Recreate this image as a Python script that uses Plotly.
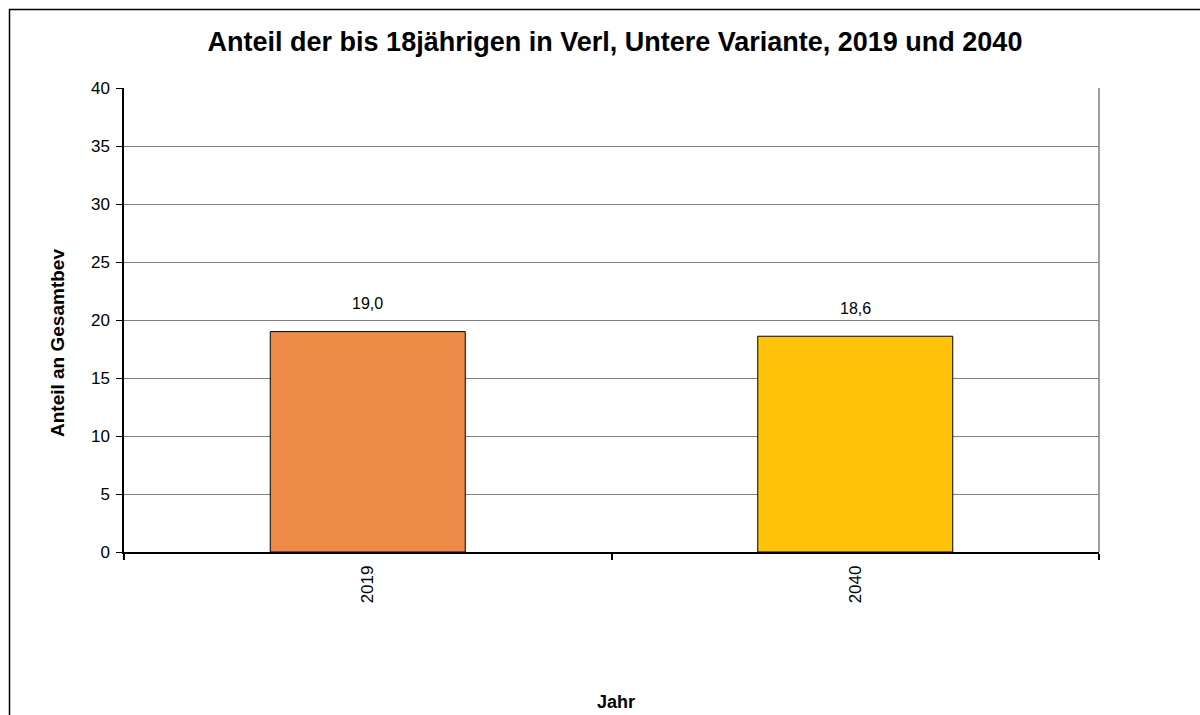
import plotly.graph_objects as go

# Data
jahre = ["2019", "2040"]
anteil = [19.0, 18.6]
farben = ["#EE8A47", "#FFC309"]
y_ticks = [0, 5, 10, 15, 20, 25, 30, 35, 40]

FONT = "Liberation Sans, Arial, sans-serif"

W, H = 1200, 715
L, R, T, B = 124, 101, 88, 163
PW, PH = W - L - R, H - T - B


def px_x(px):
    return (px - L) / PW


def px_y(py):
    return (H - B - py) / PH


fig = go.Figure()
fig.add_trace(go.Bar(
    x=jahre,
    y=anteil,
    marker=dict(color=farben, line=dict(color="#000000", width=1)),
    width=0.4,
    hoverinfo="skip",
))

# value labels above the bars (category index positions)
annotations = []
for i, v in enumerate(anteil):
    annotations.append(dict(
        x=i, y=v, xref="x", yref="y",
        text=f"{v:.1f}".replace(".", ","),
        showarrow=False, yshift=28,
        font=dict(family=FONT, size=16, color="#000000"),
    ))

# axis titles
annotations.append(dict(
    x=px_x(57), y=px_y(343), xref="paper", yref="paper",
    text="<b>Anteil an Gesamtbev</b>", textangle=-90,
    showarrow=False, xanchor="center", yanchor="middle",
    font=dict(family=FONT, size=19, color="#000000"),
))
annotations.append(dict(
    x=px_x(616), y=px_y(702), xref="paper", yref="paper",
    text="<b>Jahr</b>",
    showarrow=False, xanchor="center", yanchor="middle",
    font=dict(family=FONT, size=18, color="#000000"),
))

shapes = [
    # right border of plot area
    dict(type="line", xref="paper", yref="paper", x0=1, x1=1, y0=0, y1=1,
         line=dict(color="#808080", width=1.5)),
    # outer chart frame
    dict(type="rect", xref="paper", yref="paper",
         x0=px_x(9.5), x1=px_x(1215), y0=px_y(730), y1=px_y(9.5),
         line=dict(color="#000000", width=1.5)),
]

fig.update_layout(
    width=W, height=H,
    margin=dict(l=L, r=R, t=T, b=B),
    paper_bgcolor="#FFFFFF",
    plot_bgcolor="#FFFFFF",
    showlegend=False,
    title=dict(
        text="<b>Anteil der bis 18jährigen in Verl, Untere Variante, 2019 und 2040</b>",
        x=px_x(615), xref="paper", xanchor="center",
        y=1 - 42 / H, yref="container", yanchor="middle",
        font=dict(family=FONT, size=27, color="#000000"),
    ),
    xaxis=dict(
        type="category",
        range=[-0.5, 1.5],
        showline=True, linecolor="#000000", linewidth=1.5,
        ticks="outside", tickson="boundaries", ticklen=6,
        tickcolor="#000000", tickwidth=1.5,
        tickangle=-90, ticklabelstandoff=5,
        tickfont=dict(family=FONT, size=17, color="#000000"),
        showgrid=False, zeroline=False,
    ),
    yaxis=dict(
        range=[0, 40],
        tickvals=y_ticks,
        showline=True, linecolor="#000000", linewidth=1.5,
        ticks="outside", ticklen=6, tickcolor="#000000", tickwidth=1,
        ticklabelstandoff=3,
        tickfont=dict(family=FONT, size=17, color="#000000"),
        showgrid=True, gridcolor="#808080", gridwidth=1,
        zeroline=False,
    ),
    annotations=annotations,
    shapes=shapes,
)

fig.write_html("out.html")
